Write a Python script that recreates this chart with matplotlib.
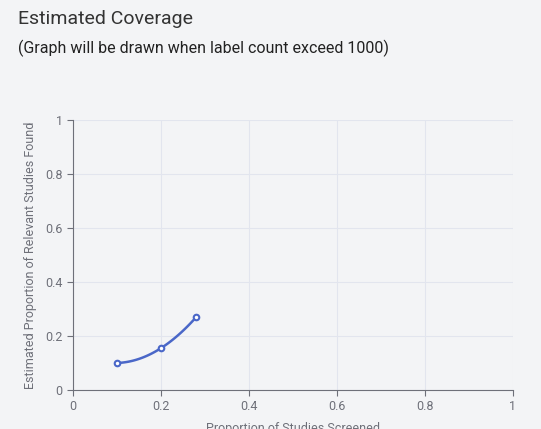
import numpy as np
import matplotlib.pyplot as plt

plt.rcParams['font.family'] = ['Roboto', 'DejaVu Sans']

screened = [0.1, 0.2, 0.28]
found = [0.1, 0.155, 0.27]
ticks = [0, 0.2, 0.4, 0.6, 0.8, 1]
tick_labels = ["0", "0.2", "0.4", "0.6", "0.8", "1"]

BG = "#f3f4f6"
LINE = "#4a67c8"

fig = plt.figure(figsize=(5.41, 4.29), dpi=100, facecolor=BG)
ax = fig.add_axes([0.135, 0.091, 0.813, 0.629], facecolor=BG)

# smooth curve through the points (rendering only)
coef = np.polyfit(screened, found, 2)
xs = np.linspace(screened[0], screened[-1], 60)
ax.plot(xs, np.polyval(coef, xs), color=LINE, lw=1.8, zorder=3)
ax.plot(screened, found, "o", ms=4, mfc="white", mec=LINE, mew=1.5, zorder=4)

ax.set_xlim(0, 1)
ax.set_ylim(0, 1)
ax.set_xticks(ticks, tick_labels)
ax.set_yticks(ticks, tick_labels)
ax.grid(color="#e2e5ee", lw=0.8)
for s in ["top", "right"]:
    ax.spines[s].set_visible(False)
for s in ["left", "bottom"]:
    ax.spines[s].set_color("#6e7079")
ax.tick_params(colors="#6e7079", labelcolor="#6e7079", labelsize=9, length=4)
ax.set_xlabel("Proportion of Studies Screened", color="#6e7079", fontsize=9, labelpad=6)
ax.set_ylabel("Estimated Proportion of Relevant Studies Found", color="#6e7079", fontsize=9, labelpad=6)

fig.text(0.033, 0.955, "Estimated Coverage", fontsize=14, color="#333333", va="center")
fig.text(0.033, 0.888, "(Graph will be drawn when label count exceed 1000)", fontsize=11.5, color="#222222", va="center")

fig.savefig("out.png", dpi=100, facecolor=BG)
